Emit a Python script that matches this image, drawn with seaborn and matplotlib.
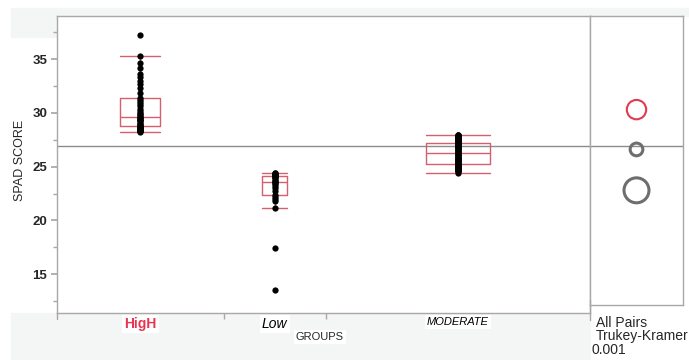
import numpy as np
import pandas as pd
import seaborn as sns
import matplotlib.pyplot as plt
from matplotlib.patches import Rectangle
from matplotlib.lines import Line2D

# data
groups = ['HigH', 'Low', 'MODERATE']

high_scores = [28.2, 28.3, 28.35, 28.4, 28.45, 28.5, 28.55, 28.6, 28.65, 28.7, 28.8,
               28.9, 29.0, 29.1, 29.2, 29.3, 29.35, 29.4, 29.5, 29.6, 29.65,
               29.8, 29.9, 30.0, 30.2, 30.4, 30.6, 30.8, 31.0, 31.2, 31.4,
               31.8, 32.3, 32.7, 33.0, 33.3, 33.6, 34.2, 34.6, 35.3, 37.2]

low_scores = [13.5, 17.4, 21.2, 21.8, 22.0, 22.2, 22.4, 22.7, 23.0, 23.2, 23.4, 23.5,
              23.6, 23.7, 23.8, 23.9, 24.0, 24.05, 24.1, 24.2, 24.25, 24.3, 24.35,
              24.4, 24.4]

moderate_scores = [24.45, 24.55, 24.6, 24.65, 24.7, 24.75, 24.8, 24.85, 24.9, 24.95,
                   25.0, 25.0, 25.05, 25.1, 25.1, 25.15, 25.2,
                   25.25, 25.3, 25.4, 25.45, 25.5, 25.6, 25.65, 25.7, 25.8, 25.85,
                   25.9, 26.0, 26.05, 26.1, 26.2, 26.3,
                   26.35, 26.4, 26.5, 26.55, 26.6, 26.65, 26.7, 26.8, 26.85, 26.9,
                   26.95, 27.0, 27.05, 27.1, 27.15, 27.2,
                   27.25, 27.3, 27.35, 27.4, 27.45, 27.5, 27.55, 27.6, 27.65, 27.7,
                   27.75, 27.8, 27.85, 27.9, 27.9, 27.93]

grand_mean = 26.9
y_ticks = [15, 20, 25, 30, 35]

# comparison circles (all pairs Tukey-Kramer)
circle_means = [30.3, 26.6, 22.8]
circle_radius = [0.90, 0.59, 1.16]
circle_colors = ['#e23a4e', '#6e6e6e', '#6e6e6e']
circle_lw = [1.5, 2.2, 2.2]

label_colors = ['#e8344e', 'black', 'black']
label_weights = ['bold', 'normal', 'normal']
label_styles = ['normal', 'italic', 'italic']
label_sizes = [10, 10, 8]

# group widths proportional to sample size, as JMP does
scores = [high_scores, low_scores, moderate_scores]
counts = np.array([len(s) for s in scores])
edges = np.concatenate([[0], np.cumsum(counts)])
centers = (edges[:-1] + edges[1:]) / 2

rows = []
for g, c, s in zip(groups, centers, scores):
    for v in s:
        rows.append((g, c, v))
df = pd.DataFrame(rows, columns=['GROUPS', 'pos', 'SPAD SCORE'])

sns.set_theme(style='ticks')
plt.rcParams['font.family'] = ['Liberation Sans', 'DejaVu Sans']

W, H = 689, 360
fig = plt.figure(figsize=(W / 100, H / 100), dpi=100)
fig.patch.set_facecolor('white')

# screenshot-ish grey bands, kept behind the axes
bg = '#f4f5f5'
for (x0, y0, w0, h0) in [(11, 0, 590 - 11, 47), (11, H - 16, W - 11, 8), (11, H - 37, 57 - 11, 21)]:
    fig.patches.append(Rectangle((x0 / W, y0 / H), w0 / W, h0 / H, transform=fig.transFigure,
                                 color=bg, zorder=-5))

ax = fig.add_axes([57 / W, 47 / H, 533 / W, 297 / H])
axc = fig.add_axes([590 / W, 55 / H, 93 / W, 289 / H])

ylo, yhi = 11.4, 39.0
px_per_unit = 297 / (yhi - ylo)

box_col = '#d4606e'
for g, c, n in zip(groups, centers, counts):
    sub = df[df['GROUPS'] == g]
    w = 0.24 * n
    sns.boxplot(x=sub['pos'], y=sub['SPAD SCORE'], native_scale=True, width=w,
                fill=False, color=box_col, linewidth=1, showfliers=False,
                capwidths=w, ax=ax)

sns.stripplot(data=df, x='pos', y='SPAD SCORE', native_scale=True, jitter=False,
              color='black', size=4.5, linewidth=0, ax=ax, zorder=3)

ax.axhline(grand_mean, color='#8c8c8c', lw=1, zorder=1)
ax.set_xlim(edges[0], edges[-1])
ax.set_ylim(ylo, yhi)

spine_col = '#a8a8a8'
for a in (ax, axc):
    for sp in a.spines.values():
        sp.set_visible(True)
        sp.set_color(spine_col)
        sp.set_linewidth(1)

ax.set_yticks(y_ticks, labels=[str(v) for v in y_ticks], fontweight='bold', fontsize=9.5)
ax.set_yticks(np.arange(12.5, 39, 2.5), minor=True)
ax.tick_params(axis='y', which='both', left=True, direction='out', color=spine_col, pad=3)
ax.tick_params(axis='y', which='major', length=4)
ax.tick_params(axis='y', which='minor', length=3)

ax.set_xticks(centers, labels=groups)
ax.set_xticks(edges[1:-1], minor=True)
ax.tick_params(axis='x', which='major', length=0, pad=3)
ax.tick_params(axis='x', which='minor', length=4, direction='out', color=spine_col)
for t, col, fw, fs, sz in zip(ax.get_xticklabels(), label_colors, label_weights,
                              label_styles, label_sizes):
    t.set_color(col)
    t.set_fontweight(fw)
    t.set_fontstyle(fs)
    t.set_fontsize(sz)
    t.set_bbox(dict(facecolor='white', edgecolor='none', pad=1.5))

ax.set_xlabel('')
ax.set_ylabel('')
fig.text(20 / W, (H - 160) / H, 'SPAD SCORE', rotation=90, ha='center', va='center',
         fontsize=9)
fig.text(320 / W, (H - 337) / H, 'GROUPS', ha='center', va='center', fontsize=8,
         bbox=dict(facecolor='white', edgecolor='none', pad=1.5))

# comparison circles panel
for m, r, c, lw in zip(circle_means, circle_radius, circle_colors, circle_lw):
    d_pt = 2 * r * px_per_unit * 0.72
    sns.scatterplot(x=[0], y=[m], s=d_pt ** 2, facecolor='none', edgecolor=c,
                    linewidth=lw, ax=axc, legend=False, zorder=3)
axc.axhline(grand_mean, color='#8c8c8c', lw=1, zorder=1)
axc.set_xlim(-1, 1)
axc.set_ylim(ylo + 8 / px_per_unit, yhi)
axc.set_xticks([])
axc.set_yticks([])
axc.set_xlabel('')
axc.set_ylabel('')

# separator and left axis run a little below the frame
fig.lines.append(Line2D([590 / W, 590 / W], [(H - 320) / H, (H - 300) / H],
                        transform=fig.transFigure, color=spine_col, lw=1))
fig.lines.append(Line2D([57 / W, 57 / W], [(H - 319) / H, (H - 313) / H],
                        transform=fig.transFigure, color=spine_col, lw=1))

fig.text(596 / W, (H - 323) / H, 'All Pairs', ha='left', va='center', fontsize=10)
fig.text(596 / W, (H - 336) / H, 'Trukey-Kramer', ha='left', va='center', fontsize=10)
fig.text(591 / W, (H - 350) / H, '0.001', ha='left', va='center', fontsize=10)

fig.savefig('out.png', dpi=100)
